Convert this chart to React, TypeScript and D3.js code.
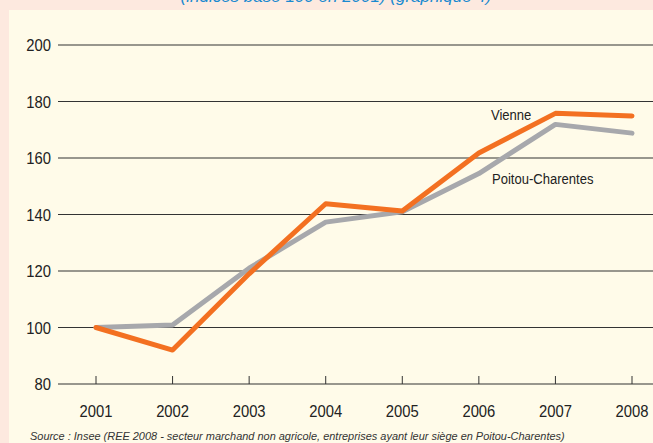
import React from "react";
import * as d3 from "d3";

const years = [2001, 2002, 2003, 2004, 2005, 2006, 2007, 2008];
const vienne = [100, 92, 119, 143.8, 141.2, 161.8, 175.8, 174.9];
const poitou = [100, 100.9, 121, 137.3, 141, 154.5, 171.9, 168.8];
const yTicks = [80, 100, 120, 140, 160, 180, 200];
const seriesLabels = ["Vienne", "Poitou-Charentes"];
const titleText = "(indices base 100 en 2001) (graphique 4)";
const sourceText =
  "Source : Insee (REE 2008 - secteur marchand non agricole, entreprises ayant leur siège en Poitou-Charentes)";

const W = 653;
const H = 443;
const FONT = "'Liberation Sans', Arial, sans-serif";
const SX = 0.87;

function CText(props: {
  x: number;
  y: number;
  anchor?: string;
  size: number;
  italic?: boolean;
  fill?: string;
  dy?: string;
  sx?: number;
  children: React.ReactNode;
}) {
  const { x, y, anchor, size, italic, fill, dy, sx, children } = props;
  return (
    <text
      transform={`translate(${x},${y}) scale(${sx ?? SX},1)`}
      textAnchor={anchor || "start"}
      dy={dy}
      fontFamily={FONT}
      fontStyle={italic ? "italic" : "normal"}
      fontSize={size}
      fill={fill || "#222"}
    >
      {children}
    </text>
  );
}

export default function App() {
  const x = d3.scalePoint<number>().domain(years).range([96, 632]);
  const y = d3.scaleLinear().domain([80, 200]).range([384, 45]);
  const line = d3
    .line<number>()
    .x((_, i) => x(years[i]) as number)
    .y((d) => y(d));

  return (
    <svg
      width={W}
      height={H}
      style={{ position: "absolute", left: 0, top: 0 }}
    >
      <rect x={0} y={0} width={W} height={H} fill="#fde9df" />
      <rect x={9} y={10} width={W - 9} height={H - 10} fill="#fffbe9" />
      <text
        x={336}
        y={2}
        textAnchor="middle"
        fontFamily={FONT}
        fontStyle="italic"
        fontSize={17}
        fill="#1a8ad0"
      >
        {titleText}
      </text>
      {yTicks.map((t) => (
        <g key={t}>
          <line
            x1={58}
            x2={W}
            y1={y(t)}
            y2={y(t)}
            stroke="#333"
            strokeWidth={1.2}
          />
          <CText x={51} y={y(t)} dy="0.36em" anchor="end" size={17}>
            {t}
          </CText>
        </g>
      ))}
      {years.map((yr) => (
        <g key={yr}>
          <line
            x1={x(yr)}
            x2={x(yr)}
            y1={376}
            y2={384}
            stroke="#333"
            strokeWidth={1}
          />
          <CText x={x(yr) as number} y={417} anchor="middle" size={17}>
            {yr}
          </CText>
        </g>
      ))}
      <path
        d={line(poitou) || ""}
        fill="none"
        stroke="#a7a8ac"
        strokeWidth={5}
        strokeLinejoin="round"
        strokeLinecap="round"
      />
      <path
        d={line(vienne) || ""}
        fill="none"
        stroke="#f37021"
        strokeWidth={5}
        strokeLinejoin="round"
        strokeLinecap="round"
      />
      <CText x={491} y={120} size={15}>
        {seriesLabels[0]}
      </CText>
      <CText x={492} y={184} size={15}>
        {seriesLabels[1]}
      </CText>
      <CText x={30} y={440} size={11.6} sx={0.945} italic fill="#333">
        {sourceText}
      </CText>
    </svg>
  );
}
